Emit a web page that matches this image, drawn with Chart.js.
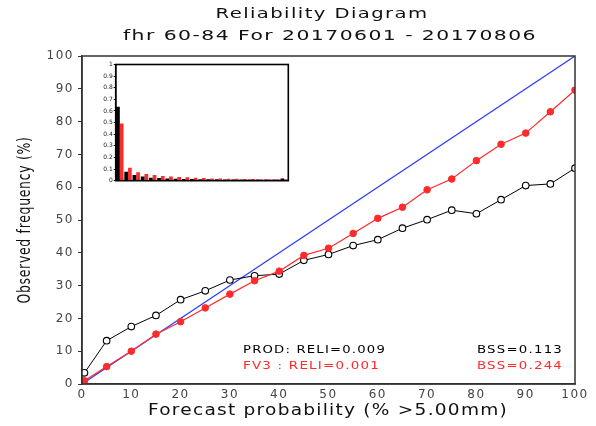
<!DOCTYPE html>
<html><head><meta charset="utf-8">
<script src="https://cdn.jsdelivr.net/npm/chart.js@4.4.0/dist/chart.umd.min.js"></script>
<style>
html,body{margin:0;padding:0;background:#fff;}
#wrap{position:relative;width:596px;height:426px;background:#fff;}
#main{position:absolute;left:0;top:0;}
#inset{position:absolute;left:92px;top:58px;}
</style></head>
<body><div id="wrap"><canvas id="main" width="596" height="426"></canvas><canvas id="inset" width="204" height="128"></canvas></div>
<script>
// ---- data ----
const probBins = [0.5, 5, 10, 15, 20, 25, 30, 35, 40, 45, 50, 55, 60, 65, 70, 75, 80, 85, 90, 95, 100];
const prodObserved = [3.4, 13.2, 17.5, 20.9, 25.7, 28.4, 31.7, 33.0, 33.5, 37.7, 39.5, 42.2, 44.0, 47.5, 50.1, 53.0, 51.9, 56.2, 60.5, 61.0, 65.8];
const fv3Observed = [1.0, 5.3, 10.0, 15.2, 19.0, 23.2, 27.4, 31.5, 34.4, 39.2, 41.4, 45.9, 50.5, 53.9, 59.2, 62.5, 68.1, 73.1, 76.5, 83.0, 89.6];
const perfectLine = [0, 100];
const prodFreq = [0.636, 0.077, 0.05, 0.037, 0.026, 0.023, 0.02, 0.017, 0.015, 0.014, 0.013, 0.012, 0.012, 0.011, 0.011, 0.011, 0.01, 0.01, 0.01, 0.01, 0.018];
const fv3Freq = [0.493, 0.112, 0.072, 0.057, 0.049, 0.04, 0.037, 0.032, 0.029, 0.026, 0.023, 0.02, 0.018, 0.017, 0.016, 0.015, 0.014, 0.013, 0.013, 0.012, 0.012];
const titleLines = ['Reliability Diagram', 'fhr 60-84 For 20170601 - 20170806'];
const xTitle = 'Forecast probability (% >5.00mm)';
const yTitle = 'Observed frequency (%)';
const prodStats = ['PROD: RELI=0.009', 'BSS=0.113'];
const fv3Stats = ['FV3 : RELI=0.001', 'BSS=0.244'];

const FAM = 'DejaVu Sans';
const RED = '#ff2a2a';

function drawText(ctx, text, x, y, o) {
  const size = o.size || 12, color = o.color || '#000', align = o.align || 'center';
  ctx.save();
  ctx.font = size + 'px "' + FAM + '"';
  ctx.letterSpacing = (o.spacing != null ? o.spacing : 1) + 'px';
  ctx.fillStyle = color;
  ctx.textBaseline = 'middle';
  ctx.textAlign = align;
  const w = ctx.measureText(text).width;
  const sx = o.width ? o.width / w : 1;
  ctx.translate(x, y);
  if (o.rotate) ctx.rotate(o.rotate);
  ctx.scale(sx, o.sy || 1);
  ctx.fillText(text, 0, 0);
  ctx.restore();
}

const textPlugin = {
  id: 'texts',
  beforeDraw(chart) {
    const ctx = chart.ctx;
    ctx.save();
    ctx.fillStyle = '#fff';
    ctx.fillRect(0, 0, chart.width, chart.height);
    ctx.restore();
    ctx.letterSpacing = '1.5px';
  },
  afterDraw(chart) {
    const ctx = chart.ctx;
    const a = chart.chartArea;
    ctx.save();
    ctx.strokeStyle = '#333';
    ctx.lineWidth = 1.5;
    ctx.strokeRect(a.left, a.top, a.right - a.left, a.bottom - a.top);
    ctx.restore();
    drawText(ctx, titleLines[0], 322, 14, {size: 14, width: 213, color: '#111'});
    drawText(ctx, titleLines[1], 330, 36, {size: 14, width: 414, color: '#111'});
    drawText(ctx, xTitle, 328, 411, {size: 15, width: 360, color: '#111'});
    drawText(ctx, yTitle, 25, 220, {size: 18, width: 167, rotate: -Math.PI / 2, color: '#111'});
    drawText(ctx, prodStats[0], 243, 350, {size: 11, width: 143, align: 'left'});
    drawText(ctx, prodStats[1], 477, 350, {size: 11, width: 86, align: 'left'});
    drawText(ctx, fv3Stats[0], 243, 366, {size: 11, width: 137, align: 'left', color: RED});
    drawText(ctx, fv3Stats[1], 477, 366, {size: 11, width: 86, align: 'left', color: RED});
  }
};

const toXY = (ys) => ys.map((v, i) => ({x: probBins[i], y: v}));

new Chart(document.getElementById('main'), {
  type: 'line',
  data: {
    datasets: [
      {
        label: 'FV3', data: toXY(fv3Observed),
        borderColor: RED, borderWidth: 1.2,
        pointRadius: 3.3, pointBackgroundColor: RED, pointBorderColor: RED, pointBorderWidth: 1
      },
      {
        label: 'PROD', data: toXY(prodObserved),
        borderColor: '#000', borderWidth: 1,
        pointRadius: 3.3, pointBackgroundColor: '#fff', pointBorderColor: '#000', pointBorderWidth: 1.1
      },
      {
        label: 'perfect', data: perfectLine.map(v => ({x: v, y: v})),
        borderColor: '#2a3cff', borderWidth: 1.2, pointRadius: 0
      }
    ]
  },
  options: {
    responsive: false, devicePixelRatio: 1, animation: false,
    layout: {padding: {left: 0, right: 21, top: 56, bottom: 0}},
    plugins: {legend: {display: false}, tooltip: {enabled: false}, title: {display: false}},
    scales: {
      x: {
        type: 'linear', min: 0, max: 100,
        ticks: {stepSize: 10, color: '#444', font: {family: FAM, size: 12}, padding: 4, maxRotation: 0},
        grid: {display: false, drawTicks: false},
        border: {display: true, color: '#333', width: 1.5},
        afterFit: s => { s.height = 42; }
      },
      y: {
        type: 'linear', min: 0, max: 100,
        ticks: {stepSize: 10, color: '#444', font: {family: FAM, size: 12}, padding: 4},
        grid: {drawOnChartArea: false, tickLength: 4, color: '#333'},
        border: {display: true, color: '#333', width: 1.5},
        afterFit: s => { s.width = 82; }
      }
    }
  },
  plugins: [textPlugin]
});

const insetFrame = {
  id: 'insetFrame',
  beforeDraw(chart) {
    const a = chart.chartArea, ctx = chart.ctx;
    ctx.save();
    ctx.fillStyle = '#fff';
    ctx.fillRect(a.left, a.top, a.right - a.left, a.bottom - a.top);
    ctx.restore();
  },
  afterDraw(chart) {
    const a = chart.chartArea, ctx = chart.ctx;
    ctx.save();
    ctx.strokeStyle = '#000';
    ctx.lineWidth = 1.6;
    ctx.strokeRect(a.left, a.top, a.right - a.left, a.bottom - a.top);
    ctx.restore();
  }
};

new Chart(document.getElementById('inset'), {
  type: 'bar',
  data: {
    labels: probBins.map(String),
    datasets: [
      {label: 'PROD', data: prodFreq, backgroundColor: '#000', categoryPercentage: 0.9, barPercentage: 1},
      {label: 'FV3', data: fv3Freq, backgroundColor: RED, categoryPercentage: 0.9, barPercentage: 1}
    ]
  },
  options: {
    responsive: false, devicePixelRatio: 1, animation: false,
    layout: {padding: {left: 0, right: 7.7, top: 6.5, bottom: 5.3}},
    plugins: {legend: {display: false}, tooltip: {enabled: false}, title: {display: false}},
    scales: {
      x: {display: false},
      y: {
        min: 0, max: 1,
        ticks: {stepSize: 0.1, color: '#222', font: {family: FAM, size: 6}, padding: 1,
                callback: v => String(+Number(v).toFixed(1))},
        grid: {drawOnChartArea: false, tickLength: 2, color: '#000'},
        border: {display: true, color: '#000', width: 1.5},
        afterFit: s => { s.width = 23.7; }
      }
    }
  },
  plugins: [insetFrame]
});
</script>
</body></html>
